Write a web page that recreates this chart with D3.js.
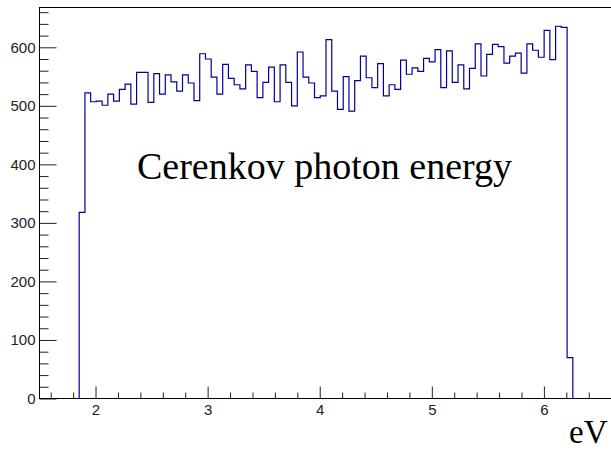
<!DOCTYPE html>
<html>
<head>
<meta charset="utf-8">
<script src="https://cdn.jsdelivr.net/npm/d3@7"></script>
<style>
  body { margin: 0; background: #fff; }
  svg { display: block; }
</style>
</head>
<body>
<svg class="chart" width="611" height="451"></svg>
<script>
// bin contents, one per bin, left to right
const counts = [
  318, 522, 507, 508, 501, 520, 508, 528, 537, 503,
  557, 557, 506, 555, 520, 553, 541, 525, 553, 539,
  509, 589, 580, 549, 520, 571, 547, 536, 529, 570,
  559, 514, 540, 566, 507, 570, 540, 500, 592, 549,
  539, 514, 517, 613, 525, 494, 550, 491, 543, 585,
  548, 531, 572, 517, 536, 528, 578, 554, 565, 559,
  581, 575, 596, 531, 594, 540, 570, 529, 564, 606,
  551, 588, 605, 601, 573, 585, 590, 556, 606, 595,
  583, 629, 579, 636, 634, 70
];
const binLow = 1.854;   // first bin edge (eV)
const binHigh = 6.258;  // last bin edge (eV)
const xTicks = [2, 3, 4, 5, 6];
const yTicks = [0, 100, 200, 300, 400, 500, 600];
const xTitle = 'eV';
const histTitle = 'Cerenkov photon energy';

document.addEventListener('DOMContentLoaded', function() {
    const svg = d3.select('svg.chart');

    const x = d3.scaleLinear().domain([1.5, 7]).range([39.5, 656]);
    const y = d3.scaleLinear().domain([0, 668]).range([398.5, 7.5]);

    const font = '"Liberation Sans", Helvetica, Arial, sans-serif';

    // minor ticks first, no labels
    const yMinor = d3.range(0, 661, 20).filter(v => v % 100 !== 0);
    svg.append('g')
        .attr('transform', 'translate(' + x(1.5) + ',0)')
        .call(d3.axisLeft(y).tickValues(yMinor).tickSize(-9).tickFormat(''))
        .call(g => g.select('.domain').remove());

    const xMinor = d3.range(16, 70, 2).filter(v => v % 10 !== 0).map(v => v / 10);
    svg.append('g')
        .attr('transform', 'translate(0,' + y(0) + ')')
        .call(d3.axisBottom(x).tickValues(xMinor).tickSize(-6).tickFormat(''))
        .call(g => g.select('.domain').remove());

    // major ticks with labels
    svg.append('g')
        .attr('transform', 'translate(' + x(1.5) + ',0)')
        .call(d3.axisLeft(y).tickValues(yTicks).tickSize(-17).tickSizeOuter(0).tickPadding(4).tickFormat(d3.format('d')))
        .call(g => g.select('.domain').remove());

    svg.append('g')
        .attr('transform', 'translate(0,' + y(0) + ')')
        .call(d3.axisBottom(x).tickValues(xTicks).tickSize(-12).tickSizeOuter(0).tickPadding(6).tickFormat(d3.format('d')))
        .call(g => g.select('.domain').remove());

    svg.selectAll('.tick line').attr('stroke', '#222');
    svg.selectAll('.tick text')
        .attr('font-family', font)
        .attr('font-size', 15)
        .attr('fill', '#222');

    // frame
    svg.append('rect')
        .attr('x', x(1.5))
        .attr('y', y(668))
        .attr('width', x(7) - x(1.5))
        .attr('height', y(0) - y(668))
        .attr('fill', 'none')
        .attr('stroke', '#000')
        .attr('stroke-width', 1);

    // histogram outline
    const w = (binHigh - binLow) / counts.length;
    let d = 'M' + x(binLow) + ',' + y(0);
    counts.forEach((c, i) => {
        d += 'V' + y(c) + 'H' + x(binLow + (i + 1) * w);
    });
    d += 'V' + y(0);
    svg.append('path')
        .attr('d', d)
        .attr('fill', 'none')
        .attr('stroke', '#00009a')
        .attr('stroke-width', 1.2);

    // texts
    svg.append('text')
        .attr('x', 137)
        .attr('y', 179)
        .attr('font-family', '"Liberation Serif", "Times New Roman", serif')
        .attr('font-size', 38)
        .attr('fill', '#000')
        .text(histTitle);

    svg.append('text')
        .attr('x', 569)
        .attr('y', 443)
        .attr('font-family', '"Liberation Serif", "Times New Roman", serif')
        .attr('font-size', 33)
        .attr('fill', '#000')
        .text(xTitle);
});
</script>
</body>
</html>
